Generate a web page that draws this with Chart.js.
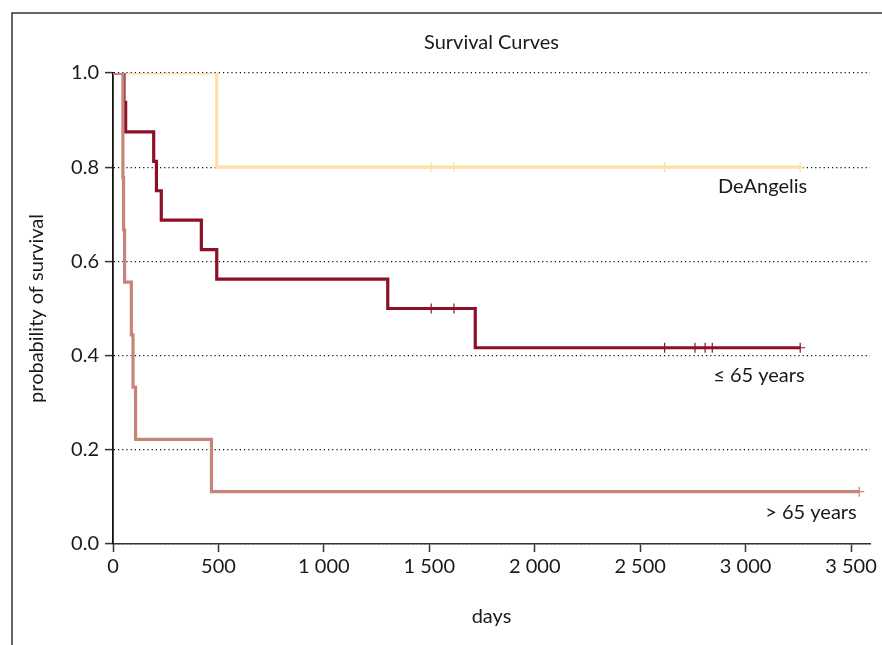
<!DOCTYPE html>
<html>
<head>
<meta charset="utf-8">
<script src="https://cdn.jsdelivr.net/npm/chart.js@4.4.1/dist/chart.umd.min.js"></script>
<style>
  html, body { margin: 0; padding: 0; background: #fff; }
  #wrap { width: 882px; height: 645px; }
</style>
</head>
<body>
<div id="wrap"><canvas id="survivalChart" width="882" height="645"></canvas></div>
<script>
// Kaplan-Meier steps (days, survival after the step)
const deangelisDays = [0, 492, 3259];
const deangelisSurv = [1.0, 0.8, 0.8];
const deangelisCensor = [1509, 1617, 2616, 3259];

const youngDays = [0, 52, 60, 193, 206, 229, 419, 492, 1303, 1718, 3259];
const youngSurv = [1.0, 0.9375, 0.875, 0.8125, 0.75, 0.6875, 0.625, 0.5625, 0.5, 0.4167, 0.4167];
const youngCensor = [1509, 1617, 2616, 2760, 2808, 2842, 3259];

const oldDays = [0, 47, 50, 55, 87, 95, 107, 467, 3539];
const oldSurv = [1.0, 0.778, 0.667, 0.556, 0.444, 0.333, 0.222, 0.111, 0.111];
const oldCensor = [3539];

const xTicks = [0, 500, 1000, 1500, 2000, 2500, 3000, 3500];
const yTicks = [0, 0.2, 0.4, 0.6, 0.8, 1.0];

const FONT = "Lato, 'Open Sans', sans-serif";
const colDeAngelis = "#fddfa8";
const colYoung = "#8c1028";
const colOld = "#c8837a";

function toPoints(days, surv) {
  return days.map((d, i) => ({ x: d, y: surv[i] }));
}

function survAt(days, surv, t) {
  let s = surv[0];
  for (let i = 0; i < days.length; i++) {
    if (days[i] <= t) s = surv[i];
  }
  return s;
}

function censorPoints(censor, days, surv) {
  return censor.map((t) => ({ x: t, y: survAt(days, surv, t) }));
}

function curve(label, days, surv, color) {
  return {
    label: label,
    data: toPoints(days, surv),
    borderColor: color,
    backgroundColor: color,
    borderWidth: 3.2,
    stepped: "before",
    pointRadius: 0,
    fill: false,
  };
}

function marks(label, censor, days, surv, color) {
  return {
    label: label,
    data: censorPoints(censor, days, surv),
    showLine: false,
    pointStyle: "cross",
    pointRadius: 5,
    pointBorderWidth: 1.2,
    borderColor: color,
    backgroundColor: color,
  };
}

const curveLabels = [
  { text: "DeAngelis", x: 3292, y: 0.758 },
  { text: "\u2264 65 years", x: 3280, y: 0.357 },
  { text: "> 65 years", x: 3527, y: 0.066 },
];

const framePlugin = {
  id: "frame",
  beforeDraw(chart) {
    const ctx = chart.ctx;
    ctx.save();
    ctx.strokeStyle = "#333";
    ctx.lineWidth = 1.5;
    ctx.strokeRect(12, 13, 900, 700);
    ctx.restore();
  },
  afterDraw(chart) {
    const ctx = chart.ctx;
    const xs = chart.scales.x;
    const ys = chart.scales.y;
    ctx.save();
    ctx.fillStyle = "#1a1a1a";
    ctx.font = "20px " + FONT;
    ctx.textAlign = "right";
    ctx.textBaseline = "middle";
    curveLabels.forEach((l) => {
      ctx.fillText(l.text, xs.getPixelForValue(l.x), ys.getPixelForValue(l.y));
    });
    ctx.restore();
  },
};

new Chart(document.getElementById("survivalChart").getContext("2d"), {
  type: "line",
  data: {
    datasets: [
      curve("> 65 years", oldDays, oldSurv, colOld),
      curve("\u2264 65 years", youngDays, youngSurv, colYoung),
      curve("DeAngelis", deangelisDays, deangelisSurv, colDeAngelis),
      marks("> 65 censored", oldCensor, oldDays, oldSurv, colOld),
      marks("\u2264 65 censored", youngCensor, youngDays, youngSurv, colYoung),
      marks("DeAngelis censored", deangelisCensor, deangelisDays, deangelisSurv, colDeAngelis),
    ],
  },
  options: {
    responsive: false,
    animation: false,
    layout: { padding: { top: 0, right: 12, left: 0, bottom: 0 } },
    plugins: {
      legend: { display: false },
      tooltip: { enabled: false },
      title: {
        display: true,
        text: "Survival Curves",
        fullSize: false,
        color: "#1a1a1a",
        font: { family: FONT, size: 20, weight: "normal" },
        padding: { top: 31, bottom: 18 },
      },
    },
    scales: {
      x: {
        type: "linear",
        min: 0,
        max: 3590,
        afterBuildTicks(scale) {
          scale.ticks = xTicks.map((v) => ({ value: v }));
        },
        afterFit(scale) {
          scale.height = 101;
        },
        ticks: {
          color: "#1a1a1a",
          font: { family: FONT, size: 20 },
          padding: 3,
          maxRotation: 0,
          callback: (v) => String(v).replace(/\B(?=(\d{3})+(?!\d))/g, " "),
        },
        grid: {
          drawOnChartArea: false,
          drawTicks: true,
          tickLength: 8,
          tickColor: "#333",
          tickWidth: 1.5,
        },
        border: { display: true, color: "#333", width: 1.5 },
        title: {
          display: true,
          text: "days",
          color: "#1a1a1a",
          font: { family: FONT, size: 20 },
          padding: { top: 0, bottom: 16 },
        },
      },
      y: {
        type: "linear",
        min: 0,
        max: 1,
        afterBuildTicks(scale) {
          scale.ticks = yTicks.map((v) => ({ value: v }));
        },
        afterFit(scale) {
          scale.width = 113;
        },
        ticks: {
          color: "#1a1a1a",
          font: { family: FONT, size: 20 },
          padding: 6,
          callback: (v) => v.toFixed(1),
        },
        grid: {
          drawOnChartArea: true,
          color: "#111",
          lineWidth: 1.2,
          drawTicks: true,
          tickLength: 8,
          tickColor: "#333",
          tickWidth: 1.5,
          tickBorderDash: [],
        },
        border: { display: true, color: "#111", width: 1.8, dash: [1.2, 3] },
        title: {
          display: true,
          text: "probability of survival",
          color: "#1a1a1a",
          font: { family: FONT, size: 20 },
          padding: { top: 25, bottom: 0 },
        },
      },
    },
  },
  plugins: [framePlugin],
});
</script>
</body>
</html>
